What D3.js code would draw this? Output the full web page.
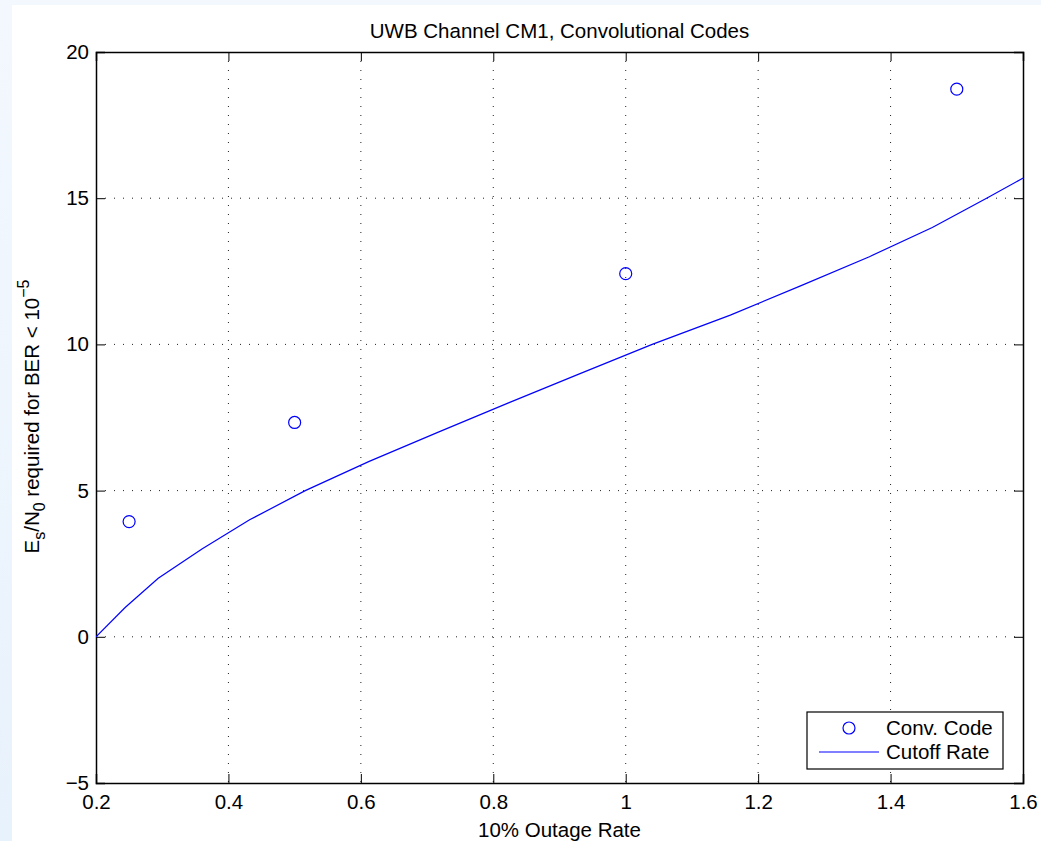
<!DOCTYPE html>
<html>
<head>
<meta charset="utf-8">
<script src="https://cdn.jsdelivr.net/npm/d3@7"></script>
<style>
  body { margin: 0; background: #fff; }
  svg { display: block; font-family: "Liberation Sans", Arial, sans-serif; }
</style>
</head>
<body>
<svg id="chart" width="1041" height="841"></svg>
<script>
// conv. code points
const codeRate = [0.25, 0.5, 1.0, 1.5];
const codeEsNo = [3.94, 7.33, 12.42, 18.73];

// cutoff rate curve (Es/N0 in 1 dB steps)
const cutoffRate = [0.2, 0.244, 0.294, 0.36, 0.432, 0.516, 0.6126, 0.717, 0.823, 0.931,
                    1.04, 1.158, 1.264, 1.368, 1.463, 1.545, 1.625];
const cutoffEsNo = [0, 1, 2, 3, 4, 5, 6, 7, 8, 9, 10, 11, 12, 13, 14, 15, 16];

const xTicks = [0.2, 0.4, 0.6, 0.8, 1, 1.2, 1.4, 1.6];
const yTicks = [-5, 0, 5, 10, 15, 20];

const W = 1041, H = 841;
const margin = {top: 52, right: 18, bottom: 58, left: 96};
const iw = W - margin.left - margin.right,
    ih = H - margin.top - margin.bottom;
const fs = '20.5px', fsSmall = '16px';

const svg = d3.select('#chart');

// figure background
const grad = svg.append('defs').append('linearGradient').attr('id', 'bg')
    .attr('x1', 0).attr('x2', 0).attr('y1', 0).attr('y2', 1);
grad.append('stop').attr('offset', 0).attr('stop-color', '#f3f8fe');
grad.append('stop').attr('offset', 1).attr('stop-color', '#e8f2fc');
svg.append('rect').attr('width', W).attr('height', H).attr('fill', 'url(#bg)');
svg.append('rect').attr('x', 12).attr('y', 5).attr('width', W - 12).attr('height', H - 5).attr('fill', '#fff');

svg.select('defs').append('clipPath').attr('id', 'clip')
    .append('rect').attr('width', iw).attr('height', ih);

const g = svg.append('g').attr('transform', `translate(${margin.left},${margin.top})`);

const x = d3.scaleLinear().domain([0.2, 1.6]).range([0, iw]);
const y = d3.scaleLinear().domain([-5, 20]).range([ih, 0]);

// grid
g.append('g').selectAll('line').data(xTicks.slice(1, -1)).join('line')
    .attr('x1', d => x(d)).attr('x2', d => x(d)).attr('y1', 0).attr('y2', ih)
    .attr('stroke', '#222').attr('stroke-width', 1).attr('stroke-dasharray', '1,8');
g.append('g').selectAll('line').data(yTicks.slice(1, -1)).join('line')
    .attr('y1', d => y(d)).attr('y2', d => y(d)).attr('x1', 0).attr('x2', iw)
    .attr('stroke', '#222').attr('stroke-width', 1).attr('stroke-dasharray', '1,8');

// axes (ticks inside, on all sides)
const tickLen = 9;
const xAxis = g.append('g').attr('transform', `translate(0,${ih})`)
    .call(d3.axisBottom(x).tickValues(xTicks).tickSize(-tickLen).tickPadding(11)
        .tickFormat(d3.format('')));
const xAxisTop = g.append('g')
    .call(d3.axisTop(x).tickValues(xTicks).tickSize(-tickLen).tickFormat(''));
const yAxis = g.append('g')
    .call(d3.axisLeft(y).tickValues(yTicks).tickSize(-tickLen).tickPadding(7)
        .tickFormat(d => d < 0 ? '\u2212' + Math.abs(d) : d));
const yAxisRight = g.append('g').attr('transform', `translate(${iw},0)`)
    .call(d3.axisRight(y).tickValues(yTicks).tickSize(-tickLen).tickFormat(''));

[xAxis, xAxisTop, yAxis, yAxisRight].forEach(a => {
    a.select('.domain').attr('stroke', '#000').attr('stroke-width', 1.5);
    a.selectAll('.tick line').attr('stroke', '#000');
    a.selectAll('text').attr('fill', '#000').style('font-size', fs)
        .style('font-family', '"Liberation Sans", Arial, sans-serif');
});

// cutoff curve
const line = d3.line().x(d => x(d[0])).y(d => y(d[1]));
g.append('path')
    .datum(cutoffRate.map((r, i) => [r, cutoffEsNo[i]]))
    .attr('clip-path', 'url(#clip)')
    .attr('fill', 'none').attr('stroke', '#0000ff').attr('stroke-width', 1.2)
    .attr('d', line);

// conv. code markers
g.append('g').selectAll('circle').data(codeRate).join('circle')
    .attr('cx', d => x(d)).attr('cy', (d, i) => y(codeEsNo[i])).attr('r', 6)
    .attr('fill', 'none').attr('stroke', '#0000ff').attr('stroke-width', 1.2);

// title
svg.append('text').attr('x', margin.left + iw / 2).attr('y', 38)
    .attr('text-anchor', 'middle').style('font-size', fs).text('UWB Channel CM1, Convolutional Codes');

// x label
svg.append('text').attr('x', margin.left + iw / 2).attr('y', 837)
    .attr('text-anchor', 'middle').style('font-size', fs).text('10% Outage Rate');

// y label
const yl = svg.append('text')
    .attr('transform', `translate(39,${margin.top + ih / 2 - 1}) rotate(-90)`)
    .attr('text-anchor', 'middle').style('font-size', fs);
yl.append('tspan').text('E');
yl.append('tspan').attr('baseline-shift', '-35%').style('font-size', fsSmall).text('s');
yl.append('tspan').text('/N');
yl.append('tspan').attr('baseline-shift', '-35%').style('font-size', fsSmall).text('0');
yl.append('tspan').text(' required for BER < 10');
yl.append('tspan').attr('baseline-shift', '65%').style('font-size', fsSmall).text('\u22125');

// legend
const lg = g.append('g').attr('transform', `translate(${x(1.6) - 20 - 196},${ih - 14 - 57})`);
lg.append('rect').attr('width', 196).attr('height', 57)
    .attr('fill', '#fff').attr('stroke', '#000').attr('stroke-width', 1.2);
lg.append('circle').attr('cx', 42).attr('cy', 16).attr('r', 6)
    .attr('fill', 'none').attr('stroke', '#0000ff').attr('stroke-width', 1.2);
lg.append('line').attr('x1', 12).attr('x2', 72).attr('y1', 40).attr('y2', 40)
    .attr('stroke', '#0000ff').attr('stroke-width', 1.2);
lg.append('text').attr('x', 79).attr('y', 23).style('font-size', fs).text('Conv. Code');
lg.append('text').attr('x', 79).attr('y', 47).style('font-size', fs).text('Cutoff Rate');
</script>
</body>
</html>
